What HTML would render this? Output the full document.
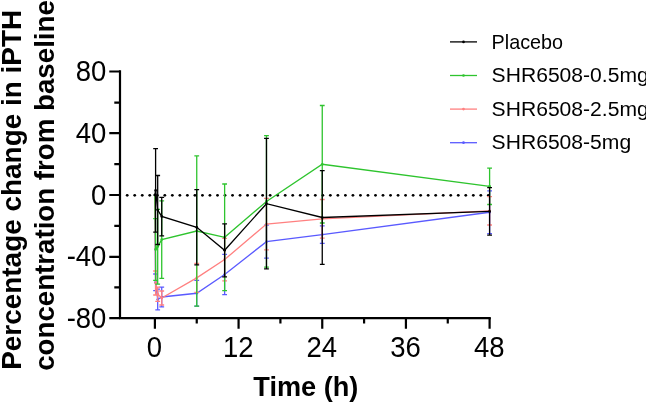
<!DOCTYPE html>
<html><head><meta charset="utf-8"><style>
html,body{margin:0;padding:0;background:#fff;}
body{width:646px;height:402px;overflow:hidden;}
svg{display:block;will-change:transform;}
text{font-family:"Liberation Sans",sans-serif;}
</style></head><body>
<svg width="646" height="402" viewBox="0 0 646 402">
<rect width="646" height="402" fill="#fff"/>
<g font-size="27.5" fill="#000"><text transform="translate(106.4,81.1) scale(1,1.04)" text-anchor="end">80</text><text transform="translate(106.4,142.8) scale(1,1.04)" text-anchor="end">40</text><text transform="translate(106.4,204.6) scale(1,1.04)" text-anchor="end">0</text><text transform="translate(106.4,266.4) scale(1,1.04)" text-anchor="end">-40</text><text transform="translate(106.4,327.8) scale(1,1.04)" text-anchor="end">-80</text><text transform="translate(154.50,356.9) scale(1,1.04)" text-anchor="middle">0</text><text transform="translate(238.18,356.9) scale(1,1.04)" text-anchor="middle">12</text><text transform="translate(321.85,356.9) scale(1,1.04)" text-anchor="middle">24</text><text transform="translate(405.53,356.9) scale(1,1.04)" text-anchor="middle">36</text><text transform="translate(489.20,356.9) scale(1,1.04)" text-anchor="middle">48</text></g>
<g font-size="27.5" font-weight="bold" fill="#000">
<text transform="translate(21,369.8) rotate(-90) scale(1.0157,1)">Percentage change in iPTH</text>
<text transform="translate(54.2,370.8) rotate(-90) scale(1.007,1)">concentration from baseline</text>
<text transform="translate(253.3,395.5) scale(0.987,1)">Time (h)</text>
</g>
<g font-size="20.5" fill="#000"><path d="M450 41.9H477" stroke="#000000" stroke-width="1.3"/><circle cx="463.5" cy="41.9" r="1.35" fill="#000000"/><text transform="translate(491.6,48.6) scale(0.965,1)">Placebo</text><path d="M450 75.5H477" stroke="#2ec42e" stroke-width="1.3"/><circle cx="463.5" cy="75.5" r="1.35" fill="#2ec42e"/><text transform="translate(491.6,82.2) scale(1.03,1)">SHR6508-0.5mg</text><path d="M450 109.1H477" stroke="#ff8080" stroke-width="1.3"/><circle cx="463.5" cy="109.1" r="1.35" fill="#ff8080"/><text transform="translate(491.6,115.8) scale(1.03,1)">SHR6508-2.5mg</text><path d="M450 142.7H477" stroke="#5a5aff" stroke-width="1.3"/><circle cx="463.5" cy="142.7" r="1.35" fill="#5a5aff"/><text transform="translate(491.6,149.4) scale(1.03,1)">SHR6508-5mg</text></g>
<path d="M120 70.3V319.3M119 318.2H490.8" stroke="#000" stroke-width="2.2" fill="none"/><path d="M109.3 71.5H120M109.3 133.2H120M109.3 195H120M109.3 256.8H120M109.3 318.2H120M114.3 102.56H120M114.3 164.19H120M114.3 225.81H120M114.3 287.44H120M154.90 318V328.8M238.58 318V328.8M322.25 318V328.8M405.93 318V328.8M489.60 318V328.8M196.74 318V323.5M280.41 318V323.5M364.09 318V323.5M447.77 318V323.5" stroke="#000" stroke-width="2.2" fill="none"/><g fill="#000"><circle cx="127.20" cy="195.3" r="1.4"/><circle cx="134.72" cy="195.3" r="1.4"/><circle cx="142.25" cy="195.3" r="1.4"/><circle cx="149.77" cy="195.3" r="1.4"/><circle cx="157.30" cy="195.3" r="1.4"/><circle cx="164.82" cy="195.3" r="1.4"/><circle cx="172.34" cy="195.3" r="1.4"/><circle cx="179.87" cy="195.3" r="1.4"/><circle cx="187.39" cy="195.3" r="1.4"/><circle cx="194.92" cy="195.3" r="1.4"/><circle cx="202.44" cy="195.3" r="1.4"/><circle cx="209.96" cy="195.3" r="1.4"/><circle cx="217.49" cy="195.3" r="1.4"/><circle cx="225.01" cy="195.3" r="1.4"/><circle cx="232.54" cy="195.3" r="1.4"/><circle cx="240.06" cy="195.3" r="1.4"/><circle cx="247.58" cy="195.3" r="1.4"/><circle cx="255.11" cy="195.3" r="1.4"/><circle cx="262.63" cy="195.3" r="1.4"/><circle cx="270.16" cy="195.3" r="1.4"/><circle cx="277.68" cy="195.3" r="1.4"/><circle cx="285.20" cy="195.3" r="1.4"/><circle cx="292.73" cy="195.3" r="1.4"/><circle cx="300.25" cy="195.3" r="1.4"/><circle cx="307.78" cy="195.3" r="1.4"/><circle cx="315.30" cy="195.3" r="1.4"/><circle cx="322.82" cy="195.3" r="1.4"/><circle cx="330.35" cy="195.3" r="1.4"/><circle cx="337.87" cy="195.3" r="1.4"/><circle cx="345.40" cy="195.3" r="1.4"/><circle cx="352.92" cy="195.3" r="1.4"/><circle cx="360.44" cy="195.3" r="1.4"/><circle cx="367.97" cy="195.3" r="1.4"/><circle cx="375.49" cy="195.3" r="1.4"/><circle cx="383.02" cy="195.3" r="1.4"/><circle cx="390.54" cy="195.3" r="1.4"/><circle cx="398.06" cy="195.3" r="1.4"/><circle cx="405.59" cy="195.3" r="1.4"/><circle cx="413.11" cy="195.3" r="1.4"/><circle cx="420.64" cy="195.3" r="1.4"/><circle cx="428.16" cy="195.3" r="1.4"/><circle cx="435.68" cy="195.3" r="1.4"/><circle cx="443.21" cy="195.3" r="1.4"/><circle cx="450.73" cy="195.3" r="1.4"/><circle cx="458.26" cy="195.3" r="1.4"/><circle cx="465.78" cy="195.3" r="1.4"/><circle cx="473.30" cy="195.3" r="1.4"/><circle cx="480.83" cy="195.3" r="1.4"/><circle cx="488.35" cy="195.3" r="1.4"/></g>
<g stroke="#5a5aff" stroke-width="1.3" fill="none"><path d="M155.60 274.00V290.70M153.20 274.00H158.00M153.20 290.70H158.00"/><path d="M157.69 289.20V309.80M155.29 289.20H160.09M155.29 309.80H160.09"/><path d="M161.73 287.10V306.80M159.33 287.10H164.13M159.33 306.80H164.13"/><path d="M196.74 280.40V306.10M194.34 280.40H199.14M194.34 306.10H199.14"/><path d="M224.63 254.30V294.70M222.23 254.30H227.03M222.23 294.70H227.03"/><path d="M266.47 225.20V258.10M264.07 225.20H268.87M264.07 258.10H268.87"/><path d="M322.25 225.90V243.40M319.85 225.90H324.65M319.85 243.40H324.65"/><path d="M489.60 190.90V233.60M487.20 190.90H492.00M487.20 233.60H492.00"/><polyline points="154.90,195.00 155.60,282.35 157.69,299.50 161.73,297.00 196.74,293.25 224.63,274.50 266.47,241.65 322.25,234.60 489.60,212.25" fill="none"/><circle cx="154.90" cy="195.00" r="1.35" fill="#5a5aff" stroke="none"/><circle cx="155.60" cy="282.35" r="1.35" fill="#5a5aff" stroke="none"/><circle cx="157.69" cy="299.50" r="1.35" fill="#5a5aff" stroke="none"/><circle cx="161.73" cy="297.00" r="1.35" fill="#5a5aff" stroke="none"/><circle cx="196.74" cy="293.25" r="1.35" fill="#5a5aff" stroke="none"/><circle cx="224.63" cy="274.50" r="1.35" fill="#5a5aff" stroke="none"/><circle cx="266.47" cy="241.65" r="1.35" fill="#5a5aff" stroke="none"/><circle cx="322.25" cy="234.60" r="1.35" fill="#5a5aff" stroke="none"/><circle cx="489.60" cy="212.25" r="1.35" fill="#5a5aff" stroke="none"/></g>
<g stroke="#ff8080" stroke-width="1.3" fill="none"><path d="M155.60 271.00V295.00M153.20 271.00H158.00M153.20 295.00H158.00"/><path d="M157.69 287.10V301.40M155.29 287.10H160.09M155.29 301.40H160.09"/><path d="M161.73 291.00V305.00M159.33 291.00H164.13M159.33 305.00H164.13"/><path d="M196.74 263.50V292.30M194.34 263.50H199.14M194.34 292.30H199.14"/><path d="M224.63 238.30V280.80M222.23 238.30H227.03M222.23 280.80H227.03"/><path d="M266.47 198.40V249.80M264.07 198.40H268.87M264.07 249.80H268.87"/><path d="M322.25 199.50V238.20M319.85 199.50H324.65M319.85 238.20H324.65"/><path d="M489.60 196.70V225.00M487.20 196.70H492.00M487.20 225.00H492.00"/><polyline points="154.90,195.00 155.60,283.00 157.69,294.25 161.73,298.00 196.74,277.90 224.63,259.55 266.47,224.10 322.25,218.90 489.60,210.90" fill="none"/><circle cx="154.90" cy="195.00" r="1.35" fill="#ff8080" stroke="none"/><circle cx="155.60" cy="283.00" r="1.35" fill="#ff8080" stroke="none"/><circle cx="157.69" cy="294.25" r="1.35" fill="#ff8080" stroke="none"/><circle cx="161.73" cy="298.00" r="1.35" fill="#ff8080" stroke="none"/><circle cx="196.74" cy="277.90" r="1.35" fill="#ff8080" stroke="none"/><circle cx="224.63" cy="259.55" r="1.35" fill="#ff8080" stroke="none"/><circle cx="266.47" cy="224.10" r="1.35" fill="#ff8080" stroke="none"/><circle cx="322.25" cy="218.90" r="1.35" fill="#ff8080" stroke="none"/><circle cx="489.60" cy="210.90" r="1.35" fill="#ff8080" stroke="none"/></g>
<g stroke="#2ec42e" stroke-width="1.3" fill="none"><path d="M155.60 218.70V280.40M153.20 218.70H158.00M153.20 280.40H158.00"/><path d="M157.69 209.30V284.20M155.29 209.30H160.09M155.29 284.20H160.09"/><path d="M161.73 200.90V278.40M159.33 200.90H164.13M159.33 278.40H164.13"/><path d="M196.74 155.90V306.10M194.34 155.90H199.14M194.34 306.10H199.14"/><path d="M224.63 184.00V290.70M222.23 184.00H227.03M222.23 290.70H227.03"/><path d="M266.47 135.70V267.10M264.07 135.70H268.87M264.07 267.10H268.87"/><path d="M322.25 105.50V223.00M319.85 105.50H324.65M319.85 223.00H324.65"/><path d="M489.60 168.10V204.50M487.20 168.10H492.00M487.20 204.50H492.00"/><polyline points="154.90,195.00 155.60,249.40 157.69,246.60 161.73,239.60 196.74,231.00 224.63,237.35 266.47,201.40 322.25,164.25 489.60,186.30" fill="none"/><circle cx="154.90" cy="195.00" r="1.35" fill="#2ec42e" stroke="none"/><circle cx="155.60" cy="249.40" r="1.35" fill="#2ec42e" stroke="none"/><circle cx="157.69" cy="246.60" r="1.35" fill="#2ec42e" stroke="none"/><circle cx="161.73" cy="239.60" r="1.35" fill="#2ec42e" stroke="none"/><circle cx="196.74" cy="231.00" r="1.35" fill="#2ec42e" stroke="none"/><circle cx="224.63" cy="237.35" r="1.35" fill="#2ec42e" stroke="none"/><circle cx="266.47" cy="201.40" r="1.35" fill="#2ec42e" stroke="none"/><circle cx="322.25" cy="164.25" r="1.35" fill="#2ec42e" stroke="none"/><circle cx="489.60" cy="186.30" r="1.35" fill="#2ec42e" stroke="none"/></g>
<g stroke="#000000" stroke-width="1.3" fill="none"><path d="M155.60 148.70V232.10M153.20 148.70H158.00M153.20 232.10H158.00"/><path d="M157.69 175.50V244.50M155.29 175.50H160.09M155.29 244.50H160.09"/><path d="M161.73 197.30V235.80M159.33 197.30H164.13M159.33 235.80H164.13"/><path d="M196.74 189.60V264.90M194.34 189.60H199.14M194.34 264.90H199.14"/><path d="M224.63 223.80V276.80M222.23 223.80H227.03M222.23 276.80H227.03"/><path d="M266.47 138.40V268.90M264.07 138.40H268.87M264.07 268.90H268.87"/><path d="M322.25 170.70V264.40M319.85 170.70H324.65M319.85 264.40H324.65"/><path d="M489.60 187.60V235.10M487.20 187.60H492.00M487.20 235.10H492.00"/><polyline points="154.90,195.00 155.60,190.40 157.69,210.00 161.73,216.40 196.74,227.30 224.63,250.30 266.47,203.70 322.25,217.50 489.60,211.40" fill="none"/><circle cx="154.90" cy="195.00" r="1.35" fill="#000000" stroke="none"/><circle cx="155.60" cy="190.40" r="1.35" fill="#000000" stroke="none"/><circle cx="157.69" cy="210.00" r="1.35" fill="#000000" stroke="none"/><circle cx="161.73" cy="216.40" r="1.35" fill="#000000" stroke="none"/><circle cx="196.74" cy="227.30" r="1.35" fill="#000000" stroke="none"/><circle cx="224.63" cy="250.30" r="1.35" fill="#000000" stroke="none"/><circle cx="266.47" cy="203.70" r="1.35" fill="#000000" stroke="none"/><circle cx="322.25" cy="217.50" r="1.35" fill="#000000" stroke="none"/><circle cx="489.60" cy="211.40" r="1.35" fill="#000000" stroke="none"/></g>
</svg>
</body></html>
